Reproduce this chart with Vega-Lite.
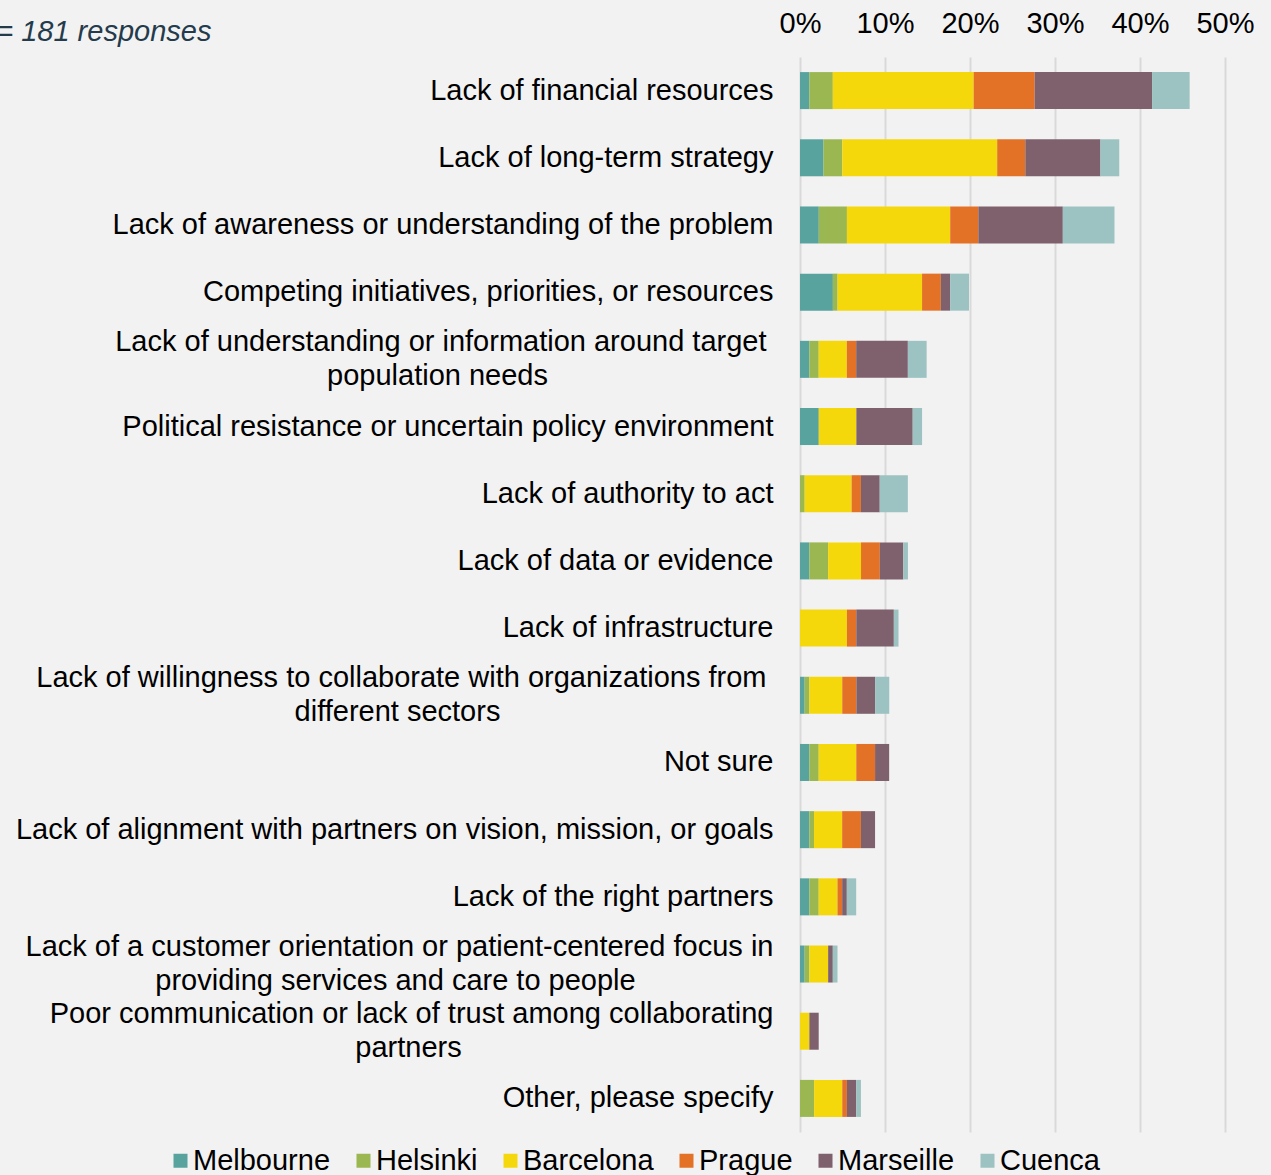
{
  "$schema": "https://vega.github.io/schema/vega-lite/v6.json",
  "width": 425,
  "height": 1075,
  "autosize": "none",
  "padding": {"left": 800, "top": 57, "right": 46, "bottom": 43},
  "background": "#F2F2F2",
  "title": {"text": "n = 181 responses", "anchor": "start", "frame": "group", "orient": "top", "dx": -828, "dy": 42, "font": "Liberation Sans", "fontSize": 29, "fontStyle": "italic", "fontWeight": "normal", "color": "#243B4C"},
  "config": {"view": {"stroke": null}, "font": "Liberation Sans"},
  "data": {"values": [
    {"q": "Lack of financial resources", "city": "Melbourne", "i": 1, "v": 0.0110},
    {"q": "Lack of financial resources", "city": "Helsinki", "i": 2, "v": 0.0276},
    {"q": "Lack of financial resources", "city": "Barcelona", "i": 3, "v": 0.1657},
    {"q": "Lack of financial resources", "city": "Prague", "i": 4, "v": 0.0718},
    {"q": "Lack of financial resources", "city": "Marseille", "i": 5, "v": 0.1381},
    {"q": "Lack of financial resources", "city": "Cuenca", "i": 6, "v": 0.0442},
    {"q": "Lack of long-term strategy", "city": "Melbourne", "i": 1, "v": 0.0276},
    {"q": "Lack of long-term strategy", "city": "Helsinki", "i": 2, "v": 0.0221},
    {"q": "Lack of long-term strategy", "city": "Barcelona", "i": 3, "v": 0.1823},
    {"q": "Lack of long-term strategy", "city": "Prague", "i": 4, "v": 0.0331},
    {"q": "Lack of long-term strategy", "city": "Marseille", "i": 5, "v": 0.0884},
    {"q": "Lack of long-term strategy", "city": "Cuenca", "i": 6, "v": 0.0221},
    {"q": "Lack of awareness or understanding of the problem", "city": "Melbourne", "i": 1, "v": 0.0221},
    {"q": "Lack of awareness or understanding of the problem", "city": "Helsinki", "i": 2, "v": 0.0331},
    {"q": "Lack of awareness or understanding of the problem", "city": "Barcelona", "i": 3, "v": 0.1215},
    {"q": "Lack of awareness or understanding of the problem", "city": "Prague", "i": 4, "v": 0.0331},
    {"q": "Lack of awareness or understanding of the problem", "city": "Marseille", "i": 5, "v": 0.0994},
    {"q": "Lack of awareness or understanding of the problem", "city": "Cuenca", "i": 6, "v": 0.0608},
    {"q": "Competing initiatives, priorities, or resources", "city": "Melbourne", "i": 1, "v": 0.0387},
    {"q": "Competing initiatives, priorities, or resources", "city": "Helsinki", "i": 2, "v": 0.0055},
    {"q": "Competing initiatives, priorities, or resources", "city": "Barcelona", "i": 3, "v": 0.0994},
    {"q": "Competing initiatives, priorities, or resources", "city": "Prague", "i": 4, "v": 0.0221},
    {"q": "Competing initiatives, priorities, or resources", "city": "Marseille", "i": 5, "v": 0.0110},
    {"q": "Competing initiatives, priorities, or resources", "city": "Cuenca", "i": 6, "v": 0.0221},
    {"q": "Lack of understanding or information around target|population needs", "city": "Melbourne", "i": 1, "v": 0.0110},
    {"q": "Lack of understanding or information around target|population needs", "city": "Helsinki", "i": 2, "v": 0.0110},
    {"q": "Lack of understanding or information around target|population needs", "city": "Barcelona", "i": 3, "v": 0.0331},
    {"q": "Lack of understanding or information around target|population needs", "city": "Prague", "i": 4, "v": 0.0110},
    {"q": "Lack of understanding or information around target|population needs", "city": "Marseille", "i": 5, "v": 0.0608},
    {"q": "Lack of understanding or information around target|population needs", "city": "Cuenca", "i": 6, "v": 0.0221},
    {"q": "Political resistance or uncertain policy environment", "city": "Melbourne", "i": 1, "v": 0.0221},
    {"q": "Political resistance or uncertain policy environment", "city": "Barcelona", "i": 3, "v": 0.0442},
    {"q": "Political resistance or uncertain policy environment", "city": "Marseille", "i": 5, "v": 0.0663},
    {"q": "Political resistance or uncertain policy environment", "city": "Cuenca", "i": 6, "v": 0.0110},
    {"q": "Lack of authority to act", "city": "Helsinki", "i": 2, "v": 0.0055},
    {"q": "Lack of authority to act", "city": "Barcelona", "i": 3, "v": 0.0552},
    {"q": "Lack of authority to act", "city": "Prague", "i": 4, "v": 0.0110},
    {"q": "Lack of authority to act", "city": "Marseille", "i": 5, "v": 0.0221},
    {"q": "Lack of authority to act", "city": "Cuenca", "i": 6, "v": 0.0331},
    {"q": "Lack of data or evidence", "city": "Melbourne", "i": 1, "v": 0.0110},
    {"q": "Lack of data or evidence", "city": "Helsinki", "i": 2, "v": 0.0221},
    {"q": "Lack of data or evidence", "city": "Barcelona", "i": 3, "v": 0.0387},
    {"q": "Lack of data or evidence", "city": "Prague", "i": 4, "v": 0.0221},
    {"q": "Lack of data or evidence", "city": "Marseille", "i": 5, "v": 0.0276},
    {"q": "Lack of data or evidence", "city": "Cuenca", "i": 6, "v": 0.0055},
    {"q": "Lack of infrastructure", "city": "Barcelona", "i": 3, "v": 0.0552},
    {"q": "Lack of infrastructure", "city": "Prague", "i": 4, "v": 0.0110},
    {"q": "Lack of infrastructure", "city": "Marseille", "i": 5, "v": 0.0442},
    {"q": "Lack of infrastructure", "city": "Cuenca", "i": 6, "v": 0.0055},
    {"q": "Lack of willingness to collaborate with organizations from|different sectors", "city": "Melbourne", "i": 1, "v": 0.0055},
    {"q": "Lack of willingness to collaborate with organizations from|different sectors", "city": "Helsinki", "i": 2, "v": 0.0055},
    {"q": "Lack of willingness to collaborate with organizations from|different sectors", "city": "Barcelona", "i": 3, "v": 0.0387},
    {"q": "Lack of willingness to collaborate with organizations from|different sectors", "city": "Prague", "i": 4, "v": 0.0166},
    {"q": "Lack of willingness to collaborate with organizations from|different sectors", "city": "Marseille", "i": 5, "v": 0.0221},
    {"q": "Lack of willingness to collaborate with organizations from|different sectors", "city": "Cuenca", "i": 6, "v": 0.0166},
    {"q": "Not sure", "city": "Melbourne", "i": 1, "v": 0.0110},
    {"q": "Not sure", "city": "Helsinki", "i": 2, "v": 0.0110},
    {"q": "Not sure", "city": "Barcelona", "i": 3, "v": 0.0442},
    {"q": "Not sure", "city": "Prague", "i": 4, "v": 0.0221},
    {"q": "Not sure", "city": "Marseille", "i": 5, "v": 0.0166},
    {"q": "Lack of alignment with partners on vision, mission, or goals", "city": "Melbourne", "i": 1, "v": 0.0110},
    {"q": "Lack of alignment with partners on vision, mission, or goals", "city": "Helsinki", "i": 2, "v": 0.0055},
    {"q": "Lack of alignment with partners on vision, mission, or goals", "city": "Barcelona", "i": 3, "v": 0.0331},
    {"q": "Lack of alignment with partners on vision, mission, or goals", "city": "Prague", "i": 4, "v": 0.0221},
    {"q": "Lack of alignment with partners on vision, mission, or goals", "city": "Marseille", "i": 5, "v": 0.0166},
    {"q": "Lack of the right partners", "city": "Melbourne", "i": 1, "v": 0.0110},
    {"q": "Lack of the right partners", "city": "Helsinki", "i": 2, "v": 0.0110},
    {"q": "Lack of the right partners", "city": "Barcelona", "i": 3, "v": 0.0221},
    {"q": "Lack of the right partners", "city": "Prague", "i": 4, "v": 0.0055},
    {"q": "Lack of the right partners", "city": "Marseille", "i": 5, "v": 0.0055},
    {"q": "Lack of the right partners", "city": "Cuenca", "i": 6, "v": 0.0110},
    {"q": "Lack of a customer orientation or patient-centered focus in|providing services and care to people", "city": "Melbourne", "i": 1, "v": 0.0055},
    {"q": "Lack of a customer orientation or patient-centered focus in|providing services and care to people", "city": "Helsinki", "i": 2, "v": 0.0055},
    {"q": "Lack of a customer orientation or patient-centered focus in|providing services and care to people", "city": "Barcelona", "i": 3, "v": 0.0221},
    {"q": "Lack of a customer orientation or patient-centered focus in|providing services and care to people", "city": "Marseille", "i": 5, "v": 0.0055},
    {"q": "Lack of a customer orientation or patient-centered focus in|providing services and care to people", "city": "Cuenca", "i": 6, "v": 0.0055},
    {"q": "Poor communication or lack of trust among collaborating|partners", "city": "Barcelona", "i": 3, "v": 0.0110},
    {"q": "Poor communication or lack of trust among collaborating|partners", "city": "Marseille", "i": 5, "v": 0.0110},
    {"q": "Other, please specify", "city": "Helsinki", "i": 2, "v": 0.0166},
    {"q": "Other, please specify", "city": "Barcelona", "i": 3, "v": 0.0331},
    {"q": "Other, please specify", "city": "Prague", "i": 4, "v": 0.0055},
    {"q": "Other, please specify", "city": "Marseille", "i": 5, "v": 0.0110},
    {"q": "Other, please specify", "city": "Cuenca", "i": 6, "v": 0.0055}
  ]},
  "resolve": {"axis": {"y": "independent"}},
  "layer": [
    {
      "mark": {"type": "bar"},
      "encoding": {
        "y": {
          "field": "q", "type": "nominal", "sort": null,
          "scale": {"paddingInner": 0.449, "paddingOuter": 0.2245},
          "axis": {
            "orient": "left", "title": null,
            "labelExpr": "split(datum.value, '|')[0]",
            "labelFont": "Liberation Sans", "labelFontSize": 29, "labelColor": "#000000",
            "labelAlign": "right",
            "labelPadding": {"condition": {"test": "indexof(datum.value, 'target|') >= 0 || indexof(datum.value, 'from|') >= 0", "value": 34}, "value": 27},
            "labelOffset": {"condition": {"test": "indexof(datum.value, '|') >= 0", "value": -17}, "value": 0},
            "ticks": false, "tickSize": 0, "domain": false, "grid": false, "labelLimit": 900
          }
        },
        "x": {
          "field": "v", "type": "quantitative", "stack": "zero",
          "scale": {"domain": [0, 0.5], "nice": false},
          "axis": {"orient": "top", "title": null, "format": ".0%", "values": [0, 0.1, 0.2, 0.3, 0.4, 0.5], "grid": true, "gridColor": "#D9D9D9", "gridWidth": 2, "domain": false, "ticks": false, "tickSize": 0, "labelFont": "Liberation Sans", "labelFontSize": 29, "labelColor": "#000000", "labelPadding": 19, "labelFlush": false}
        },
        "color": {
          "field": "city", "type": "nominal",
          "scale": {"domain": ["Melbourne", "Helsinki", "Barcelona", "Prague", "Marseille", "Cuenca"], "range": ["#59A39F", "#9BB751", "#F5D80C", "#E37226", "#7F616E", "#9CC3C1"]},
          "legend": {"orient": "none", "legendX": -634, "legendY": 1089, "direction": "horizontal", "columns": 6, "title": null, "symbolType": "square", "symbolSize": 196, "symbolStrokeWidth": 0, "symbolOpacity": 1, "labelFont": "Liberation Sans", "labelFontSize": 29, "labelColor": "#000000", "columnPadding": 18, "labelOffset": -2, "padding": 0}
        },
        "order": {"field": "i", "type": "quantitative"}
      }
    },
    {
      "mark": {"type": "tick", "opacity": 0},
      "encoding": {
        "y": {
          "field": "q", "type": "nominal", "sort": null,
          "axis": {
            "orient": "left", "title": null,
            "labelExpr": "indexof(datum.value, '|') >= 0 ? split(datum.value, '|')[1] : ''",
            "labelFont": "Liberation Sans", "labelFontSize": 29, "labelColor": "#000000",
            "labelAlign": "center",
            "labelPadding": {"condition": [
              {"test": "indexof(datum.value, 'target|') >= 0", "value": 363},
              {"test": "indexof(datum.value, 'from|') >= 0", "value": 403},
              {"test": "indexof(datum.value, 'focus in|') >= 0", "value": 405},
              {"test": "indexof(datum.value, 'collaborating|') >= 0", "value": 392}
            ], "value": 27},
            "labelOffset": 17,
            "ticks": false, "tickSize": 0, "domain": false, "grid": false, "labelLimit": 900
          }
        }
      }
    }
  ]
}
